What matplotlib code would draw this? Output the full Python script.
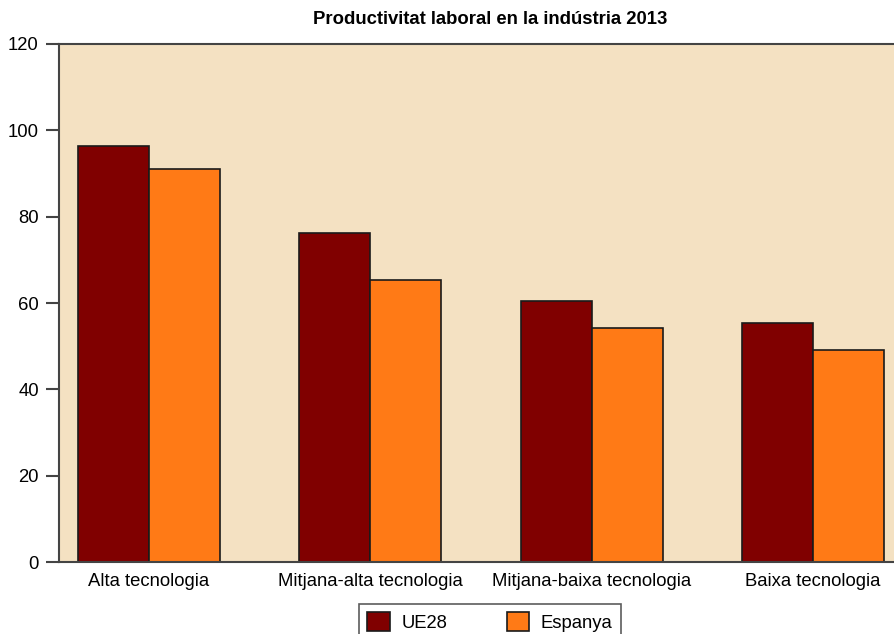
import matplotlib.pyplot as plt
import numpy as np

plt.rcParams['font.family'] = ['Liberation Sans', 'DejaVu Sans']

categories = ["Alta tecnologia", "Mitjana-alta tecnologia", "Mitjana-baixa tecnologia", "Baixa tecnologia"]
ue28 = [96.3, 76.1, 60.5, 55.4]
espanya = [91.1, 65.4, 54.1, 49.1]
series_names = ["UE28", "Espanya"]

x = np.arange(len(categories))
w = 0.32

fig = plt.figure(figsize=(8.95, 6.34), dpi=100)
ax = fig.add_axes([59/895, 1-562.3/634, (903-59)/895, (562.3-43.7)/634])
ax.set_facecolor('#F4E1C2')

ax.bar(x - w/2, ue28, w, color='#800000', edgecolor='#1a1a1a', linewidth=1.2, label=series_names[0])
ax.bar(x + w/2, espanya, w, color='#FF7A16', edgecolor='#1a1a1a', linewidth=1.2, label=series_names[1])

ax.set_xlim(-0.406, 3.406)
ax.set_ylim(0, 120)
ax.set_yticks([0, 20, 40, 60, 80, 100, 120])
ax.set_xticks(x)
ax.set_xticklabels(categories)
ax.tick_params(axis='y', length=9.5, width=1.5, color='#444444', labelsize=13.3, pad=5)
ax.tick_params(axis='x', length=0, labelsize=13.3, pad=8)
for s in ['left', 'top', 'bottom']:
    ax.spines[s].set_color('#444444')
    ax.spines[s].set_linewidth(1.5)
ax.spines['right'].set_visible(False)

fig.text(490/895, 1-20/634, "Productivitat laboral en la indústria 2013",
         ha='center', va='center', fontsize=13.3, fontweight='bold')

leg = fig.legend(loc='upper center', bbox_to_anchor=(490/895, 1-604/634), ncol=2,
                 fontsize=13.3, frameon=True, fancybox=False, edgecolor='#333333',
                 handlelength=1.2, handleheight=1.2, handletextpad=0.65,
                 columnspacing=3.2, borderpad=0.45, borderaxespad=0)
leg.get_frame().set_linewidth(1.2)

fig.savefig("out.png", dpi=100)
